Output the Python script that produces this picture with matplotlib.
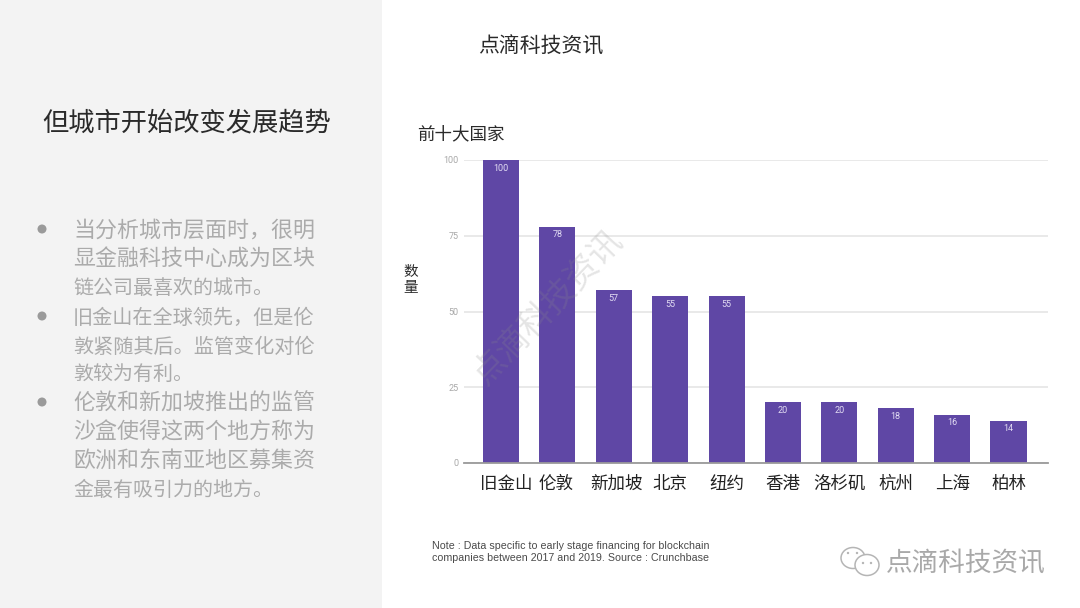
import matplotlib
matplotlib.use("Agg")
import matplotlib.pyplot as plt
from matplotlib.patches import Rectangle, Ellipse, Circle
from matplotlib.transforms import ScaledTranslation

plt.rcParams['font.family'] = ['Noto Sans CJK SC', 'DejaVu Sans']

cities = ['旧金山', '伦敦', '新加坡', '北京', '纽约', '香港', '洛杉矶', '杭州', '上海', '柏林']
counts = [100, 78, 57, 55, 55, 20, 20, 18, 16, 14]
y_ticks = [0, 25, 50, 75, 100]
label_shift_px = [5, -1, 3, 0, 0, 0, 0, 0, 0, 0]

page_title = '但城市开始改变发展趋势'
brand = '点滴科技资讯'
chart_title = '前十大国家'
y_label = ['数', '量']
body_lines = ['当分析城市层面时，很明', '显金融科技中心成为区块', '链公司最喜欢的城市。',
              '旧金山在全球领先，但是伦', '敦紧随其后。监管变化对伦', '敦较为有利。',
              '伦敦和新加坡推出的监管', '沙盒使得这两个地方称为', '欧洲和东南亚地区募集资', '金最有吸引力的地方。']
body_y = [229, 258, 287, 316, 345, 373, 402, 431, 459, 488]
body_size = [15.8, 15.8, 14.4, 14.5, 14.5, 14.4, 15.8, 15.8, 15.8, 14.4]
bullet_y = [229, 316, 402]
note_lines = ['Note : Data specific to early stage financing for blockchain',
              'companies between 2017 and 2019. Source : Crunchbase']

W, H = 1080, 608
fig = plt.figure(figsize=(W / 100, H / 100), dpi=100, facecolor='white')

# background layer in pixel coordinates
bg = fig.add_axes([0, 0, 1, 1], zorder=0)
bg.set_xlim(0, W); bg.set_ylim(H, 0); bg.axis('off')
bg.add_patch(Rectangle((0, 0), 382, H, color='#f3f3f3', lw=0))

# chart
L, R, T, B = 464, 1048, 160, 463
ax = fig.add_axes([L / W, 1 - B / H, (R - L) / W, (B - T) / H], zorder=1)
ax.patch.set_alpha(0)
x = list(range(len(cities)))
ax.bar(x, counts, width=0.64, color='#5f47a5', zorder=3)
ax.set_xlim(-0.656, 9.70)
ax.set_ylim(0, 100)
ax.set_yticks(y_ticks)
ax.set_xticks(x)
ax.set_xticklabels(cities, fontsize=12.6, color='#222222')
ax.grid(axis='y', color='#e9e9e9', lw=1.4, zorder=0)
ax.set_axisbelow(True)
for s in ['top', 'right', 'left']:
    ax.spines[s].set_visible(False)
ax.spines['bottom'].set_color('#9a9a9a')
ax.spines['bottom'].set_linewidth(1.3)
ax.spines['bottom'].set_zorder(4)
ax.tick_params(axis='x', length=0, pad=8.5)
ax.tick_params(axis='y', length=0, pad=4, labelsize=6.5, labelcolor='#a8a8a8')
for lab in ax.get_yticklabels():
    lab.set_family('Roboto')
for lab, dx in zip(ax.get_xticklabels(), label_shift_px):
    lab.set_transform(lab.get_transform() + ScaledTranslation(dx / 100, 0, fig.dpi_scale_trans))
for xi, v in zip(x, counts):
    ax.annotate(str(v), (xi, v), xytext=(0, -5.8), textcoords='offset points',
                ha='center', va='center', fontsize=6.5, color='#e2dcf3', zorder=5, family='Roboto')

# overlay text in pixel coordinates
ov = fig.add_axes([0, 0, 1, 1], zorder=2)
ov.set_xlim(0, W); ov.set_ylim(H, 0); ov.axis('off'); ov.patch.set_alpha(0)

ov.text(42, 123, page_title, fontsize=18.9, color='#2a2a2a', va='center', ha='left', fontweight='light')
ov.text(540.5, 47, brand, fontsize=15, color='#2a2a2a', va='center', ha='center', fontweight='light')
ov.text(417, 134, chart_title, fontsize=12.6, color='#2a2a2a', va='center', ha='left')
ov.text(411, 272, y_label[0], fontsize=10.5, color='#2a2a2a', va='center', ha='center')
ov.text(411, 288, y_label[1], fontsize=10.5, color='#2a2a2a', va='center', ha='center')

for line, y, fs in zip(body_lines, body_y, body_size):
    ov.text(73, y + 2, line, fontsize=fs, color='#ababab', va='center', ha='left', fontweight='light')
for y in bullet_y:
    ov.add_patch(Circle((42, y), 4.5, color='#9a9a9a', lw=0))

for line, y in zip(note_lines, [546, 558]):
    ov.text(432, y, line, fontsize=7.65, color='#4a4a4a', va='center', ha='left', family='Liberation Sans')

# diagonal watermark over the chart
ov.text(548, 307, brand, fontsize=24, color='#8a8a8a', alpha=0.22, rotation=46,
        va='center', ha='center', rotation_mode='anchor', fontweight='light')

# WeChat-style mark and brand, bottom right
ov.add_patch(Ellipse((853, 558), 24, 21, fill=False, ec='#b5b5b5', lw=1.1))
ov.add_patch(Ellipse((867, 565), 24, 21, ec='#b5b5b5', lw=1.1, fc='white'))
for cx, cy in [(848, 553), (857, 553), (863, 563), (871, 563)]:
    ov.add_patch(Circle((cx, cy), 1.2, color='#b5b5b5', lw=0))
ov.text(886, 564, brand, fontsize=19.2, color='#a9a9a9', va='center', ha='left', fontweight='light')

fig.savefig('out.png', dpi=100)
